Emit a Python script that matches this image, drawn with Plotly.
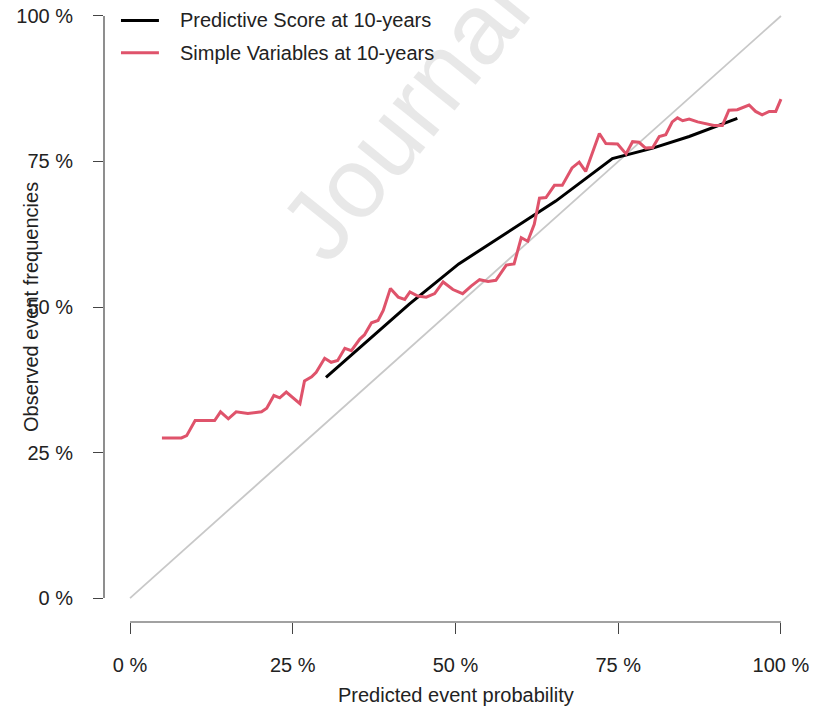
import plotly.graph_objects as go

# ---- data ----
ref_x = [0, 100]
ref_y = [0, 100]

score_x = [30.1, 42.9, 50.5, 65.4, 74.1, 80.3, 85.9, 93.3]
score_y = [37.9, 50.5, 57.4, 68.2, 75.5, 77.3, 79.3, 82.4]

simple_x = [4.9, 7.9, 8.7, 10.0, 13.0, 13.9, 15.1, 16.3, 18.1, 20.2, 21.0, 22.1, 23.0, 24.0,
            26.1, 26.8, 27.9, 28.6, 29.9, 30.9, 31.9, 33.0, 34.0, 35.3, 36.0, 37.1, 38.1, 38.9,
            40.0, 41.2, 42.2, 43.0, 44.2, 45.5, 46.8, 48.1, 49.6, 51.1, 52.4, 53.7, 55.0, 56.2,
            57.8, 59.0, 60.1, 61.1, 62.1, 62.9, 63.9, 65.2, 66.4, 67.9, 69.0, 70.0, 72.1, 73.1,
            74.9, 76.2, 77.2, 78.2, 79.2, 80.3, 81.3, 82.3, 83.3, 84.1, 84.9, 85.9, 87.2, 88.4,
            89.7, 91.0, 92.0, 93.3, 95.1, 96.1, 97.1, 98.2, 99.2, 100.0]
simple_y = [27.5, 27.5, 27.9, 30.5, 30.5, 32.0, 30.8, 32.0, 31.7, 32.0, 32.6, 34.8, 34.4, 35.4,
            33.4, 37.3, 38.0, 38.8, 41.2, 40.5, 40.8, 42.9, 42.5, 44.5, 45.2, 47.3, 47.7, 49.4,
            53.2, 51.7, 51.3, 52.6, 51.9, 51.7, 52.3, 54.3, 53.0, 52.3, 53.6, 54.7, 54.4, 54.6,
            57.2, 57.4, 61.9, 61.3, 64.2, 68.7, 68.8, 70.9, 70.9, 73.9, 74.9, 73.3, 79.8, 78.1,
            78.0, 76.3, 78.4, 78.3, 77.3, 77.4, 79.3, 79.6, 81.8, 82.5, 82.0, 82.3, 81.8, 81.5,
            81.2, 81.2, 83.8, 83.9, 84.7, 83.6, 83.0, 83.6, 83.6, 85.7]

tick_vals = [0, 25, 50, 75, 100]
tick_text = ["0 %", "25 %", "50 %", "75 %", "100 %"]

series_names = ["Predictive Score at 10-years", "Simple Variables at 10-years"]
series_colors = ["#000000", "#DF536B"]

FONT = "Liberation Sans, Arial, sans-serif"
AX = "#444444"

fig = go.Figure()
fig.add_trace(go.Scatter(x=ref_x, y=ref_y, mode="lines", showlegend=False,
                         line=dict(color="#c8c8c8", width=1.8), hoverinfo="skip"))
fig.add_trace(go.Scatter(x=score_x, y=score_y, mode="lines", name=series_names[0],
                         showlegend=False, line=dict(color=series_colors[0], width=3)))
fig.add_trace(go.Scatter(x=simple_x, y=simple_y, mode="lines", name=series_names[1],
                         showlegend=False, line=dict(color=series_colors[1], width=3)))

# manual legend (R style): key lines + labels, placed in paper coordinates
legend_shapes = []
legend_annos = []
for i, (nm, col) in enumerate(zip(series_names, series_colors)):
    yk = 1 - (13.5 + 32.5 * i) / 617
    legend_shapes.append(dict(type="line", xref="paper", yref="paper",
                              x0=17 / 704, x1=55 / 704, y0=yk, y1=yk,
                              line=dict(color=col, width=3)))
    legend_annos.append(dict(text=nm, xref="paper", yref="paper", x=74 / 704, y=yk,
                             xanchor="left", yanchor="middle", showarrow=False,
                             font=dict(size=20, color="#222222")))

fig.update_layout(
    width=814, height=721,
    margin=dict(l=104, r=6, t=5, b=99),
    paper_bgcolor="white", plot_bgcolor="white",
    font=dict(family=FONT, size=20, color="#222222"),
    showlegend=False,
    xaxis=dict(range=[-4.0, 104.0], tickvals=tick_vals, ticktext=tick_text,
               ticks="outside", ticklen=11, tickwidth=1, tickcolor=AX,
               showline=False, showgrid=False, zeroline=False, ticklabelstandoff=14,
               tickfont=dict(size=20)),
    yaxis=dict(range=[-4.11, 101.54], tickvals=tick_vals, ticktext=tick_text,
               ticks="outside", ticklen=10, tickwidth=1, tickcolor=AX,
               showline=False, showgrid=False, zeroline=False, ticklabelstandoff=16,
               tickfont=dict(size=20)),
    shapes=[
        dict(type="line", xref="x", yref="paper", x0=0, x1=100, y0=0, y1=0,
             line=dict(color=AX, width=1.2)),
        dict(type="line", xref="paper", yref="y", x0=0, x1=0, y0=0, y1=100,
             line=dict(color=AX, width=1.2)),
    ] + legend_shapes,
    annotations=[
        dict(text="Journal Pre-proof", xref="paper", yref="paper", x=0.626, y=1.10,
             xanchor="center", yanchor="middle",
             showarrow=False, textangle=-51, font=dict(size=100, color="rgba(205,205,205,0.45)")),
        dict(text="Predicted event probability", xref="x", yref="paper", x=50, y=0,
             yshift=-86, showarrow=False, font=dict(size=20)),
        dict(text="Observed event frequencies", xref="paper", yref="y", x=0, y=50,
             xshift=-86, showarrow=False, textangle=-90, font=dict(size=20)),
    ] + legend_annos,
)

fig.write_html("out.html")
